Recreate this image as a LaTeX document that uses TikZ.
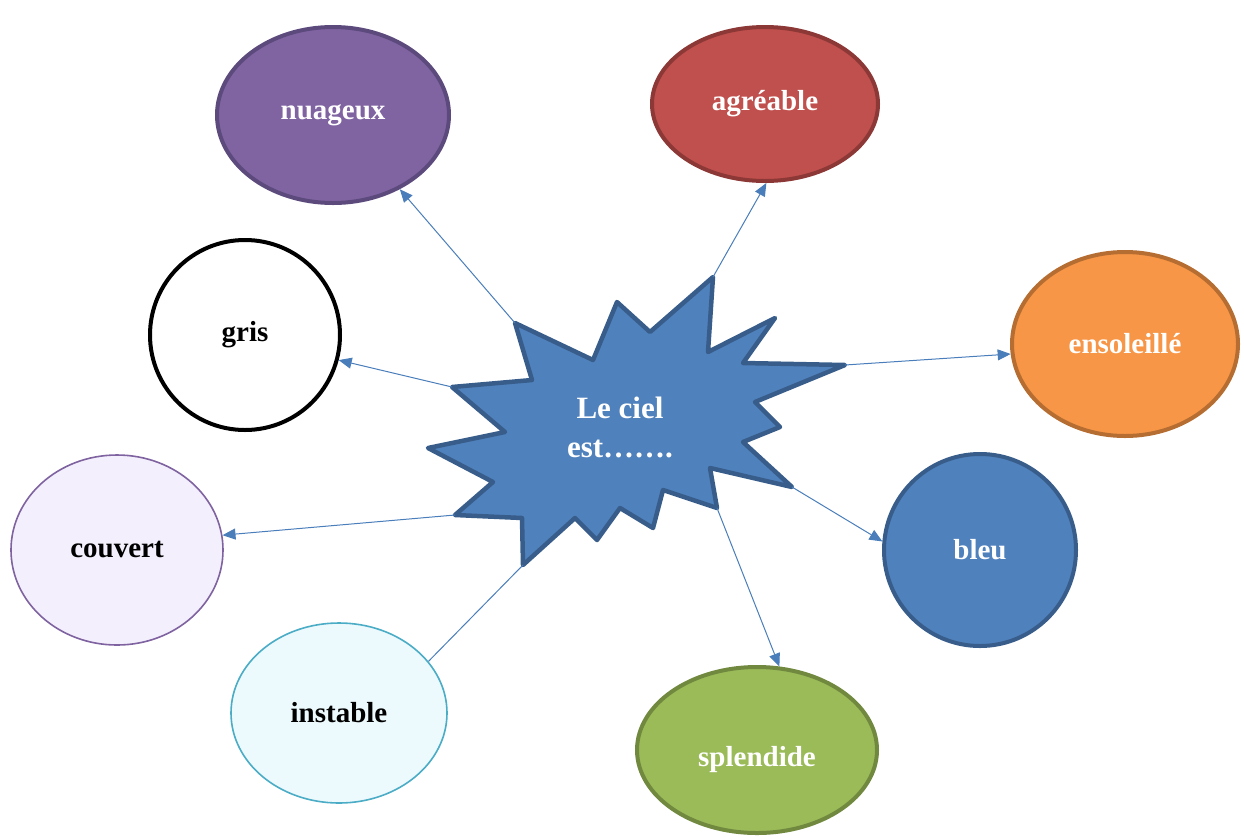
\documentclass[tikz,border=0pt]{standalone}
\usepackage{fontspec}
\setmainfont{Liberation Serif}
\usetikzlibrary{shapes.geometric,arrows.meta}
\definecolor{cpurple}{HTML}{8064A2}
\definecolor{bpurple}{HTML}{5C4A7D}
\definecolor{cred}{HTML}{C0504D}
\definecolor{bred}{HTML}{8C3836}
\definecolor{corange}{HTML}{F79646}
\definecolor{borange}{HTML}{B66D31}
\definecolor{cblue}{HTML}{4F81BD}
\definecolor{bblue}{HTML}{385D8A}
\definecolor{cgreen}{HTML}{9BBB59}
\definecolor{bgreen}{HTML}{71893F}
\definecolor{ccyan}{HTML}{ECF9FD}
\definecolor{bcyan}{HTML}{4BACC6}
\definecolor{clav}{HTML}{F4EFFC}
\definecolor{blav}{HTML}{7F63A1}
\definecolor{arrowc}{HTML}{4A7EBB}
\begin{document}
\begin{tikzpicture}[x=1pt,y=-1pt,
  bubble/.style={ellipse,inner sep=0pt,font=\fontsize{29}{34}\selectfont\bfseries},
  thickb/.style={bubble,line width=4pt,text=white},
  thinb/.style={bubble,line width=1.6pt,text=black},
  conn/.style={draw=arrowc,line width=1pt,-{Triangle[length=13pt,width=11pt]}},
  plain/.style={draw=arrowc,line width=1pt}]
\useasboundingbox (0,0) rectangle (1244,839);
% ellipses
\node[thickb,fill=cpurple,draw=bpurple,minimum width=232,minimum height=176] (nua) at (333,115) {nuageux};
\node[thickb,fill=cred,draw=bred,minimum width=226,minimum height=154] (agr) at (765,104) {agréable};
\node[thickb,fill=corange,draw=borange,minimum width=226,minimum height=184] (ens) at (1125,344) {ensoleillé};
\node[thickb,fill=cblue,draw=bblue,minimum width=192,minimum height=192] (ble) at (980,550) {bleu};
\node[thickb,fill=cgreen,draw=bgreen,minimum width=240,minimum height=166,text height=38pt,text depth=6pt] (spl) at (757,750) {splendide};
\node[thickb,fill=white,draw=black,text=black,minimum width=190,minimum height=190] (gri) at (245,335) {gris};
\node[thinb,fill=clav,draw=blav,minimum width=212,minimum height=190] (cou) at (117,550) {couvert};
\node[thinb,fill=ccyan,draw=bcyan,minimum width=216,minimum height=180] (ins) at (339,713) {instable};
% star
\coordinate (t1) at (515,323);
\coordinate (t2) at (617,302);
\coordinate (t3) at (713,277);
\coordinate (t4) at (775,318);
\coordinate (t5) at (845,365);
\coordinate (t6) at (780,427);
\coordinate (t7) at (792,487);
\coordinate (t8) at (717,508);
\coordinate (t9) at (653,528);
\coordinate (t10) at (597,540);
\coordinate (t11) at (523,565);
\coordinate (t12) at (455,515);
\coordinate (t13) at (428,448);
\coordinate (t14) at (452,387);
\draw[fill=cblue,draw=bblue,line width=4.5pt,line join=round]
  (t1) -- (593,360) -- (t2) -- (650,332) -- (t3) -- (708,352) -- (t4) -- (743,363)
  -- (t5) -- (755,402) -- (t6) -- (743,442) -- (t7) -- (710,468) -- (t8) -- (663,490)
  -- (t9) -- (620,508) -- (t10) -- (575,518) -- (t11) -- (522,518) -- (t12) -- (493,482)
  -- (t13) -- (505,432) -- (t14) -- (532,380) -- cycle;
\node[font=\fontsize{31}{39}\selectfont\bfseries,text=white,align=center,inner sep=0pt] (ctr) at (620,427) {Le ciel\\est…….};
% connectors
\draw[conn] (t1) -- (nua.-48);
\draw[conn] (t3) -- (agr.-89);
\draw[conn] (t5) -- (ens.185);
\draw[conn] (t7) -- (ble.175);
\draw[conn] (t8) -- (spl.75);
\draw[conn] (t14) -- (gri.-15);
\draw[conn] (t12) -- (cou.8);
\draw[plain] (t11) -- (ins.30);
\end{tikzpicture}
\end{document}
